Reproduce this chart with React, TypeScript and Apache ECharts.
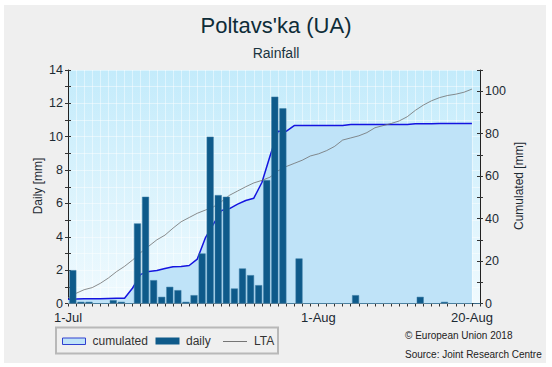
import React, { useEffect, useRef } from 'react';
import * as echarts from 'echarts';

// Days since 1-Jul (index 0) through 20-Aug (index 50)
const xTickDays = [0, 31, 50];
const xTickLabels = ['1-Jul', '1-Aug', '20-Aug'];

// Daily rainfall [mm]
const daily = [
  2.0, 0.1, 0.1, 0, 0, 0.2, 0.1, 0,
  4.8, 6.4, 1.4, 0.4, 1.0, 0.8, 0.1, 0.5,
  3.0, 10.0, 6.5, 6.4, 0.9, 2.1, 1.7, 1.1,
  7.4, 12.4, 11.7, 0, 2.7,
  0, 0, 0, 0, 0, 0,
  0.5,
  0, 0, 0, 0, 0, 0, 0,
  0.4,
  0, 0,
  0.1,
  0, 0, 0, 0,
];

// Long-term average cumulated rainfall [mm]
const lta = [
  2.7, 4.8, 6.5, 7.5, 9.5, 12, 15, 17.5, 20.5, 24,
  27, 30, 32.2, 35.5, 38.5, 40.5, 42.5, 44, 45.5, 48,
  51, 53, 55, 56.8, 58, 59.5, 62.5, 64.5, 66, 67.5,
  69.5, 70.5, 72, 74, 77, 78, 79, 80.5, 82.8, 83.8,
  84.8, 86, 88, 91, 93.5, 95.5, 97, 98, 98.6, 99.5,
  101,
];

const titleText = "Poltavs'ka (UA)";
const subtitleText = 'Rainfall';
const leftAxisName = 'Daily [mm]';
const rightAxisName = 'Cumulated [mm]';
const legendNames = ['cumulated', 'daily', 'LTA'];
const creditLines = ['\u00A9 European Union 2018', 'Source: Joint Research Centre'];

const FONT = '"Liberation Sans", Arial, Helvetica, sans-serif';
const TXT = '#1c2a33';
const BAR = '#0e5a8a';
const CUM_LINE = '#1414e0';
const CUM_FILL = '#bfe3f8';
const LTA_COLOR = '#707070';

export default function App() {
  const ref = useRef<HTMLDivElement>(null);

  useEffect(() => {
    if (!ref.current) return;
    const chart = echarts.init(ref.current, null, { renderer: 'svg' });

    let s = 0;
    const cumulated = daily.map((v) => {
      s += v;
      return Math.round(s * 100) / 100;
    });

    const option: any = {
      animation: false,
      textStyle: { fontFamily: FONT },
      title: [
        {
          text: titleText,
          left: 'center',
          top: 9,
          textStyle: { fontSize: 22, fontWeight: 'normal', color: '#0e2c38', fontFamily: FONT },
        },
        {
          text: subtitleText,
          left: 'center',
          top: 41,
          textStyle: { fontSize: 14, fontWeight: 'normal', color: '#1a3440', fontFamily: FONT },
        },
      ],
      grid: {
        left: 68,
        right: 72,
        top: 70,
        bottom: 63.5,
        show: true,
        borderWidth: 0,
        backgroundColor: new echarts.graphic.LinearGradient(0, 0, 0, 1, [
          { offset: 0, color: '#c3ebfb' },
          { offset: 1, color: '#f0fafe' },
        ]),
      },
      xAxis: {
        type: 'value',
        min: 0,
        max: 51,
        interval: 1,
        axisLine: { show: true, lineStyle: { color: '#222', width: 1 } },
        axisTick: { show: true, length: 3, lineStyle: { color: '#333' } },
        axisLabel: {
          fontSize: 13,
          color: TXT,
          margin: 7.5,
          fontFamily: FONT,
          formatter: (v: number) => {
            const k = xTickDays.indexOf(v);
            return k >= 0 ? xTickLabels[k] : '';
          },
        },
        splitLine: { show: true, lineStyle: { color: 'rgba(255,255,255,0.45)', width: 1 } },
      },
      yAxis: [
        {
          type: 'value',
          position: 'left',
          min: 0,
          max: 14,
          interval: 1,
          axisLine: { show: true, lineStyle: { color: '#222', width: 1 } },
          axisTick: { show: true, length: 3, lineStyle: { color: '#333' } },
          axisLabel: {
            fontSize: 12.5,
            color: TXT,
            margin: 5,
            fontFamily: FONT,
            formatter: (v: number) => (v % 2 === 0 ? String(v) : ''),
          },
          splitLine: { show: true, lineStyle: { color: 'rgba(255,255,255,0.45)', width: 1 } },
        },
        {
          type: 'value',
          position: 'right',
          min: 0,
          max: 110,
          interval: 10,
          axisLine: { show: true, lineStyle: { color: '#222', width: 1 } },
          axisTick: { show: true, length: 3, lineStyle: { color: '#333' } },
          axisLabel: {
            fontSize: 12.5,
            color: TXT,
            margin: 5,
            fontFamily: FONT,
            formatter: (v: number) => (v % 20 === 0 && v <= 100 ? String(v) : ''),
          },
          splitLine: { show: false },
        },
        {
          type: 'value',
          position: 'left',
          min: 0,
          max: 14,
          interval: 1,
          axisLine: { show: false },
          axisTick: { show: true, inside: true, length: 3, lineStyle: { color: '#333' } },
          axisLabel: { show: false },
          splitLine: { show: false },
        },
        {
          type: 'value',
          position: 'right',
          min: 0,
          max: 110,
          interval: 10,
          axisLine: { show: false },
          axisTick: { show: true, inside: true, length: 3, lineStyle: { color: '#333' } },
          axisLabel: { show: false },
          splitLine: { show: false },
        },
      ],
      series: [
        {
          name: 'cumulated',
          type: 'line',
          yAxisIndex: 1,
          data: cumulated.map((v, i) => [i, v]),
          symbol: 'none',
          lineStyle: { color: CUM_LINE, width: 1.5 },
          areaStyle: { color: CUM_FILL, opacity: 1 },
          z: 2,
        },
        {
          name: 'LTA',
          type: 'line',
          yAxisIndex: 1,
          data: lta.map((v, i) => [i, v]),
          symbol: 'none',
          lineStyle: { color: LTA_COLOR, width: 0.8 },
          z: 3,
        },
        {
          name: 'daily',
          type: 'bar',
          yAxisIndex: 0,
          data: daily.map((v, i) => [i + 0.6, v]),
          barWidth: 7,
          itemStyle: { color: BAR, borderColor: '#3f7fa6', borderWidth: 0.5 },
          z: 4,
        },
      ],
      graphic: [
        {
          type: 'text',
          x: 38,
          y: 186,
          rotation: Math.PI / 2,
          style: {
            text: leftAxisName,
            fill: TXT,
            font: `12px ${FONT}`,
            align: 'center',
            verticalAlign: 'middle',
            textAlign: 'center',
            textVerticalAlign: 'middle',
          },
        },
        {
          type: 'text',
          x: 519,
          y: 186,
          rotation: Math.PI / 2,
          style: {
            text: rightAxisName,
            fill: TXT,
            font: `12px ${FONT}`,
            align: 'center',
            verticalAlign: 'middle',
            textAlign: 'center',
            textVerticalAlign: 'middle',
          },
        },
        // Legend box
        {
          type: 'rect',
          shape: { x: 56, y: 327.5, width: 222, height: 26 },
          style: { fill: '#efefef', stroke: '#b8b8b8', lineWidth: 2 },
        },
        {
          type: 'rect',
          shape: { x: 62.5, y: 338, width: 23, height: 6.5 },
          style: { fill: CUM_FILL, stroke: '#3040d0', lineWidth: 1 },
        },
        {
          type: 'text',
          x: 92.5,
          y: 341,
          style: {
            text: legendNames[0],
            fill: '#333',
            font: `12px ${FONT}`,
            verticalAlign: 'middle',
            textVerticalAlign: 'middle',
          },
        },
        {
          type: 'rect',
          shape: { x: 155.5, y: 337.5, width: 24, height: 7 },
          style: { fill: BAR },
        },
        {
          type: 'text',
          x: 186,
          y: 341,
          style: {
            text: legendNames[1],
            fill: '#333',
            font: `12px ${FONT}`,
            verticalAlign: 'middle',
            textVerticalAlign: 'middle',
          },
        },
        {
          type: 'line',
          shape: { x1: 223, y1: 341.5, x2: 247, y2: 341.5 },
          style: { stroke: '#555', lineWidth: 0.8 },
        },
        {
          type: 'text',
          x: 254,
          y: 341,
          style: {
            text: legendNames[2],
            fill: '#333',
            font: `12px ${FONT}`,
            verticalAlign: 'middle',
            textVerticalAlign: 'middle',
          },
        },
        {
          type: 'text',
          x: 405,
          y: 335,
          style: {
            text: creditLines[0],
            fill: '#222',
            font: `10px ${FONT}`,
            verticalAlign: 'middle',
            textVerticalAlign: 'middle',
          },
        },
        {
          type: 'text',
          x: 405,
          y: 354,
          style: {
            text: creditLines[1],
            fill: '#222',
            font: `10px ${FONT}`,
            verticalAlign: 'middle',
            textVerticalAlign: 'middle',
          },
        },
      ],
    };

    chart.setOption(option);
    return () => chart.dispose();
  }, []);

  return (
    <div style={{ position: 'fixed', left: 0, top: 0, width: 552, height: 367, background: '#ffffff' }}>
      <div style={{ position: 'absolute', left: 4, top: 5, width: 542, height: 358, background: '#efefef' }} />
      <div ref={ref} style={{ position: 'absolute', left: 0, top: 0, width: 552, height: 367 }} />
    </div>
  );
}
